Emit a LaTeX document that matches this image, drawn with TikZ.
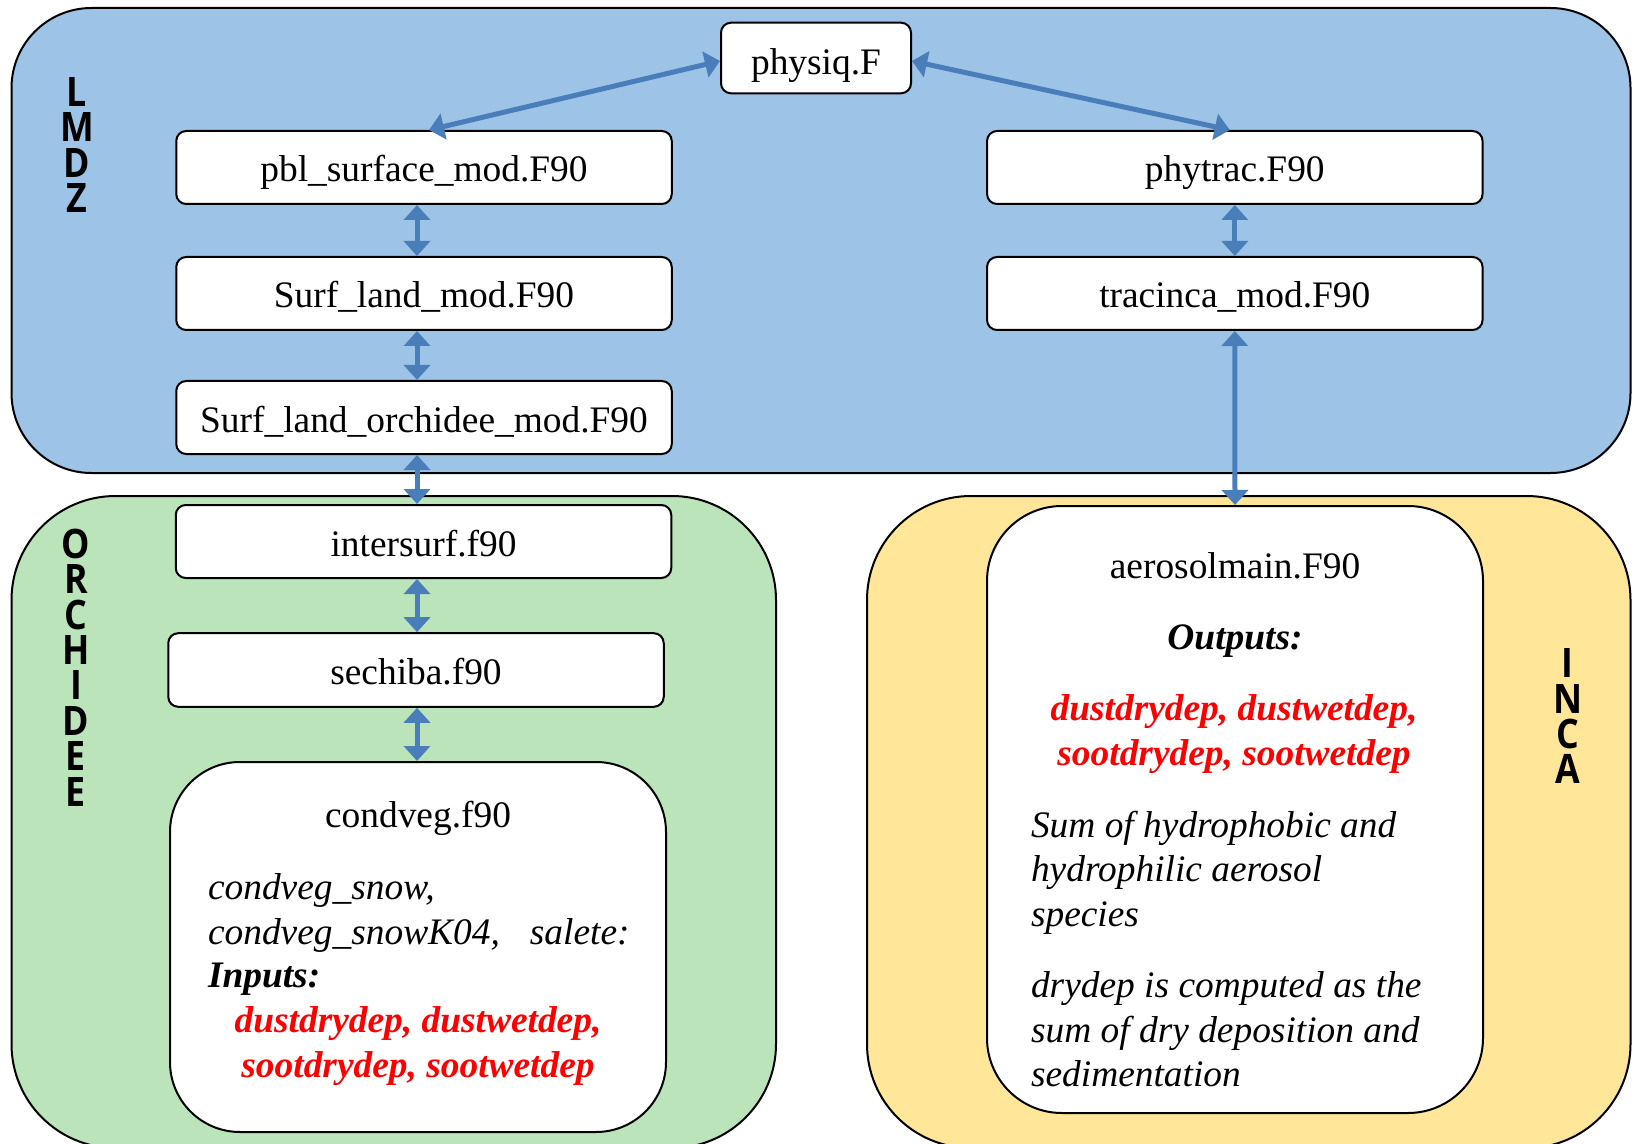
\documentclass[tikz,border=0pt]{standalone}
\usepackage{fontspec}
\setmainfont{Liberation Serif}
\newfontfamily\labfont{Open Sans}
\usetikzlibrary{arrows.meta}
\definecolor{lmdzblue}{HTML}{9DC3E6}
\definecolor{orchgreen}{HTML}{BBE4BA}
\definecolor{incayellow}{HTML}{FFE699}
\definecolor{arrowblue}{HTML}{4A7EBB}
\definecolor{txtred}{HTML}{FF0000}
\newcommand\mainsize{\fontsize{18.7}{22}\selectfont}
\tikzset{
  region/.style={draw=black, line width=1pt, inner sep=0pt},
  box/.style={draw=black, line width=1pt, fill=white, rounded corners=5pt,
    minimum width=247.75pt, minimum height=36.5pt, inner sep=0pt, font=\mainsize,
    text height=14.5pt, text depth=0pt},
  bigbox/.style={draw=black, line width=1pt, fill=white, inner sep=0pt, minimum width=248pt},
  link/.style={draw=arrowblue, line width=2.5pt,
    {Triangle[width=13pt,length=7.5pt]}-{Triangle[width=13pt,length=7.5pt]}},
  tag/.style={font=\labfont\bfseries\fontsize{20.3}{17.7}\selectfont, align=center, inner sep=0pt, xscale=0.88},
  txt/.style={inner sep=0pt, font=\mainsize},
  itxt/.style={inner sep=0pt, font=\mainsize\itshape},
  btxt/.style={inner sep=0pt, font=\mainsize\bfseries\itshape},
  rtxt/.style={inner sep=0pt, font=\mainsize\bfseries\itshape, text=txtred},
}
\begin{document}
\begin{tikzpicture}[x=0.5pt,y=-0.5pt]
\useasboundingbox (0,0) rectangle (1632,1144);
\clip (0,0) rectangle (1632,1144);

% regions
\node[region, fill=lmdzblue, rounded corners=40pt, minimum width=809.5pt, minimum height=232.5pt] (lmdz) at (821,240.5) {};
\node[region, fill=orchgreen, rounded corners=52pt, minimum width=382.25pt, minimum height=326pt] (orchidee) at (393.75,822) {};
\node[region, fill=incayellow, rounded corners=52pt, minimum width=381.75pt, minimum height=326pt] (inca) at (1248.75,822) {};

% region tags
\node[tag] (tlmdz) at (77,145) {L\\M\\D\\Z};
\node[tag] (torch) at (76,667.5) {O\\R\\C\\H\\I\\D\\E\\E};
\node[tag] (tinca) at (1567.7,716.3) {I\\N\\C\\A};

% LMDZ boxes
\node[box, minimum width=95pt, minimum height=35.3pt, text height=17pt] (physiq) at (816,58) {physiq.F};
\node[box] (pbl) at (424,167.5) {pbl\_surface\_mod.F90};
\node[box] (surf) at (424,293.5) {Surf\_land\_mod.F90};
\node[box] (orch) at (424,417.5) {Surf\_land\_orchidee\_mod.F90};
\node[box] (phytrac) at (1234.8,167.5) {phytrac.F90};
\node[box] (tracinca) at (1234.8,293.5) {tracinca\_mod.F90};

% ORCHIDEE boxes
\node[box] (intersurf) at (423.5,541.5) {intersurf.f90};
\node[box, minimum height=36.8pt] (sechiba) at (416,670) {sechiba.f90};
\node[bigbox, rounded corners=35pt, minimum height=185pt] (condveg) at (418,947) {};

% INCA box
\node[bigbox, rounded corners=37.5pt, minimum height=303.5pt] (aerosol) at (1235,809.5) {};

% condveg texts
\node[txt, anchor=base] (cvtitle) at (418,827) {condveg.f90};
\node[itxt, anchor=base west] (cva) at (207.6,899) {condveg\_snow,};
\node[itxt, anchor=base west] (cvb) at (207.6,944) {condveg\_snowK04,\hspace{15pt}salete:};
\node[btxt, anchor=base west] (cvc) at (207.6,987.4) {Inputs:};
\node[rtxt, anchor=base] (cvd) at (418,1032.7) {dustdrydep, dustwetdep,};
\node[rtxt, anchor=base] (cve) at (418,1077) {sootdrydep, sootwetdep};

% aerosolmain texts
\node[txt, anchor=base] (aetitle) at (1235,578.3) {aerosolmain.F90};
\node[btxt, anchor=base] (aeout) at (1235,649.4) {Outputs:};
\node[rtxt, anchor=base] (aea) at (1234,720.6) {dustdrydep, dustwetdep,};
\node[rtxt, anchor=base] (aeb) at (1234,765) {sootdrydep, sootwetdep};
\node[itxt, anchor=base west] (aec) at (1030.6,837) {Sum of hydrophobic and};
\node[itxt, anchor=base west] (aed) at (1030.6,881.5) {hydrophilic aerosol};
\node[itxt, anchor=base west] (aee) at (1030.6,926) {species};
\node[itxt, anchor=base west] (aef) at (1030.6,997.6) {drydep is computed as the};
\node[itxt, anchor=base west] (aeg) at (1030.6,1042) {sum of dry deposition and};
\node[itxt, anchor=base west] (aeh) at (1030.6,1086.5) {sedimentation};

% connectors
\coordinate (colL) at (417,0);
\draw[link] ([yshift=-1.5pt]physiq.west) -- ([xshift=2.5pt]pbl.north);
\draw[link] ([yshift=-1.5pt]physiq.east) -- ([xshift=-2.5pt]phytrac.north);
\draw[link] (pbl.south -| colL) -- (surf.north -| colL);
\draw[link] (surf.south -| colL) -- (orch.north -| colL);
\draw[link] (orch.south -| colL) -- (intersurf.north -| colL);
\draw[link] (intersurf.south -| colL) -- (sechiba.north -| colL);
\draw[link] (sechiba.south -| colL) -- (condveg.north -| colL);
\draw[link] (phytrac.south) -- (tracinca.north);
\draw[link] (tracinca.south) -- (aerosol.north);
\end{tikzpicture}
\end{document}
